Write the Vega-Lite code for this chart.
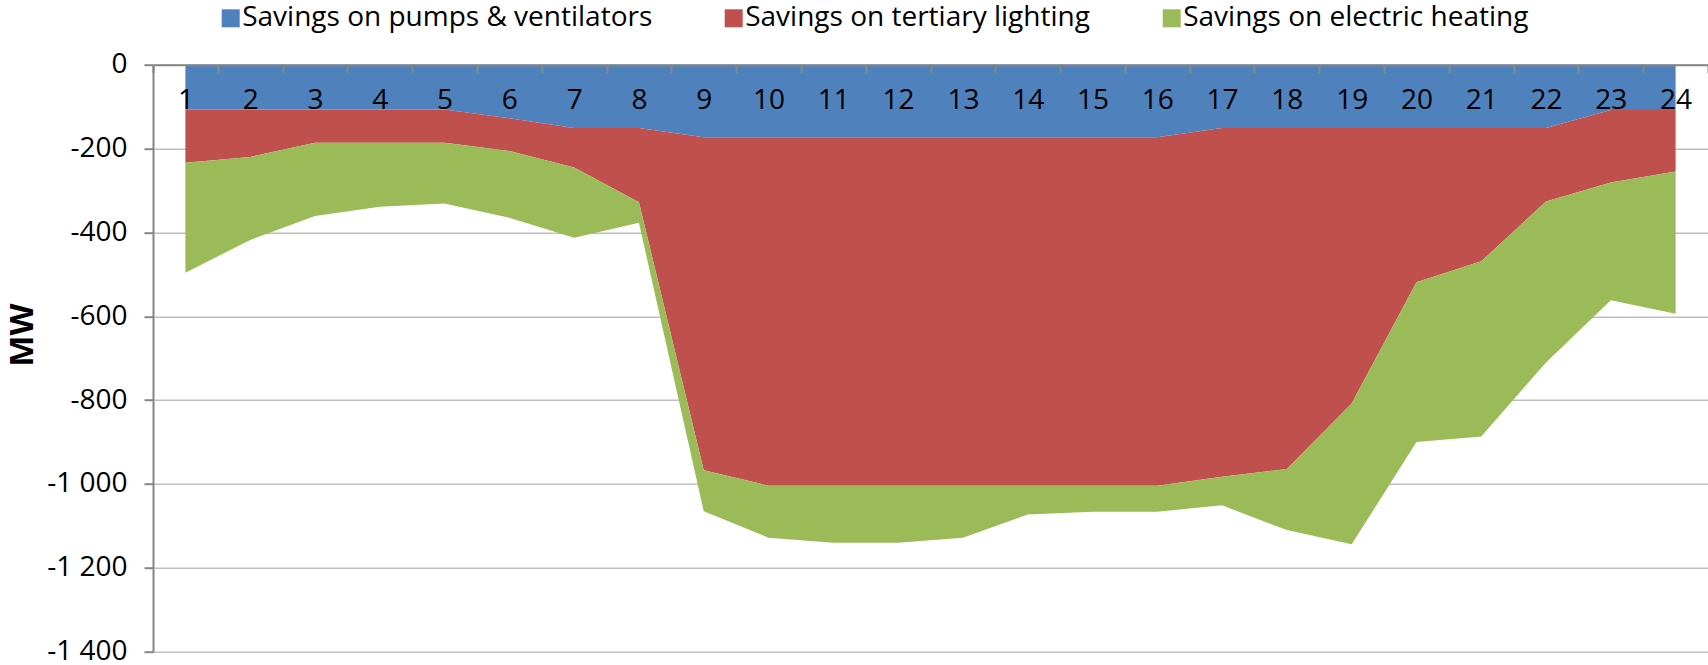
{
  "$schema": "https://vega.github.io/schema/vega-lite/v6.json",
  "width": 1555,
  "height": 587,
  "autosize": {"type": "none"},
  "padding": {"left": 153, "top": 64.7, "right": 0, "bottom": 13.3},
  "background": "white",
  "config": {"font": "Open Sans", "view": {"stroke": null}},
  "data": {
    "values": [
      {"hour": 1, "series": "Savings on pumps & ventilators", "value": -107},
      {"hour": 2, "series": "Savings on pumps & ventilators", "value": -107},
      {"hour": 3, "series": "Savings on pumps & ventilators", "value": -107},
      {"hour": 4, "series": "Savings on pumps & ventilators", "value": -107},
      {"hour": 5, "series": "Savings on pumps & ventilators", "value": -107},
      {"hour": 6, "series": "Savings on pumps & ventilators", "value": -128},
      {"hour": 7, "series": "Savings on pumps & ventilators", "value": -151},
      {"hour": 8, "series": "Savings on pumps & ventilators", "value": -151},
      {"hour": 9, "series": "Savings on pumps & ventilators", "value": -173},
      {"hour": 10, "series": "Savings on pumps & ventilators", "value": -173},
      {"hour": 11, "series": "Savings on pumps & ventilators", "value": -173},
      {"hour": 12, "series": "Savings on pumps & ventilators", "value": -173},
      {"hour": 13, "series": "Savings on pumps & ventilators", "value": -173},
      {"hour": 14, "series": "Savings on pumps & ventilators", "value": -173},
      {"hour": 15, "series": "Savings on pumps & ventilators", "value": -173},
      {"hour": 16, "series": "Savings on pumps & ventilators", "value": -173},
      {"hour": 17, "series": "Savings on pumps & ventilators", "value": -151},
      {"hour": 18, "series": "Savings on pumps & ventilators", "value": -151},
      {"hour": 19, "series": "Savings on pumps & ventilators", "value": -151},
      {"hour": 20, "series": "Savings on pumps & ventilators", "value": -151},
      {"hour": 21, "series": "Savings on pumps & ventilators", "value": -151},
      {"hour": 22, "series": "Savings on pumps & ventilators", "value": -151},
      {"hour": 23, "series": "Savings on pumps & ventilators", "value": -108},
      {"hour": 24, "series": "Savings on pumps & ventilators", "value": -108},
      {"hour": 1, "series": "Savings on tertiary lighting", "value": -127},
      {"hour": 2, "series": "Savings on tertiary lighting", "value": -113},
      {"hour": 3, "series": "Savings on tertiary lighting", "value": -79},
      {"hour": 4, "series": "Savings on tertiary lighting", "value": -79},
      {"hour": 5, "series": "Savings on tertiary lighting", "value": -79},
      {"hour": 6, "series": "Savings on tertiary lighting", "value": -78},
      {"hour": 7, "series": "Savings on tertiary lighting", "value": -94},
      {"hour": 8, "series": "Savings on tertiary lighting", "value": -177},
      {"hour": 9, "series": "Savings on tertiary lighting", "value": -794},
      {"hour": 10, "series": "Savings on tertiary lighting", "value": -831},
      {"hour": 11, "series": "Savings on tertiary lighting", "value": -831},
      {"hour": 12, "series": "Savings on tertiary lighting", "value": -831},
      {"hour": 13, "series": "Savings on tertiary lighting", "value": -831},
      {"hour": 14, "series": "Savings on tertiary lighting", "value": -831},
      {"hour": 15, "series": "Savings on tertiary lighting", "value": -831},
      {"hour": 16, "series": "Savings on tertiary lighting", "value": -831},
      {"hour": 17, "series": "Savings on tertiary lighting", "value": -832},
      {"hour": 18, "series": "Savings on tertiary lighting", "value": -813},
      {"hour": 19, "series": "Savings on tertiary lighting", "value": -657},
      {"hour": 20, "series": "Savings on tertiary lighting", "value": -368},
      {"hour": 21, "series": "Savings on tertiary lighting", "value": -318},
      {"hour": 22, "series": "Savings on tertiary lighting", "value": -175},
      {"hour": 23, "series": "Savings on tertiary lighting", "value": -173},
      {"hour": 24, "series": "Savings on tertiary lighting", "value": -147},
      {"hour": 1, "series": "Savings on electric heating", "value": -262},
      {"hour": 2, "series": "Savings on electric heating", "value": -198},
      {"hour": 3, "series": "Savings on electric heating", "value": -175},
      {"hour": 4, "series": "Savings on electric heating", "value": -153},
      {"hour": 5, "series": "Savings on electric heating", "value": -145},
      {"hour": 6, "series": "Savings on electric heating", "value": -159},
      {"hour": 7, "series": "Savings on electric heating", "value": -168},
      {"hour": 8, "series": "Savings on electric heating", "value": -49},
      {"hour": 9, "series": "Savings on electric heating", "value": -98},
      {"hour": 10, "series": "Savings on electric heating", "value": -124},
      {"hour": 11, "series": "Savings on electric heating", "value": -136},
      {"hour": 12, "series": "Savings on electric heating", "value": -136},
      {"hour": 13, "series": "Savings on electric heating", "value": -124},
      {"hour": 14, "series": "Savings on electric heating", "value": -69},
      {"hour": 15, "series": "Savings on electric heating", "value": -62},
      {"hour": 16, "series": "Savings on electric heating", "value": -62},
      {"hour": 17, "series": "Savings on electric heating", "value": -68},
      {"hour": 18, "series": "Savings on electric heating", "value": -146},
      {"hour": 19, "series": "Savings on electric heating", "value": -336},
      {"hour": 20, "series": "Savings on electric heating", "value": -381},
      {"hour": 21, "series": "Savings on electric heating", "value": -418},
      {"hour": 22, "series": "Savings on electric heating", "value": -384},
      {"hour": 23, "series": "Savings on electric heating", "value": -281},
      {"hour": 24, "series": "Savings on electric heating", "value": -339}
    ]
  },
  "transform": [
    {"calculate": "indexof(['Savings on pumps & ventilators','Savings on tertiary lighting','Savings on electric heating'], datum.series)", "as": "ord"}
  ],
  "mark": {"type": "area", "interpolate": "linear", "opacity": 1},
  "encoding": {
    "x": {
      "field": "hour",
      "type": "ordinal",
      "bandPosition": 0.5,
      "scale": {"type": "band", "paddingInner": 0, "paddingOuter": 0},
      "axis": {
        "orient": "bottom",
        "offset": -587,
        "title": null,
        "labelAngle": 0,
        "labelFontSize": 28,
        "labelColor": "black",
        "labelPadding": 14,
        "tickSize": 8,
        "tickBand": "extent",
        "tickColor": "#868686",
        "tickWidth": 2,
        "domainColor": "#868686",
        "domainWidth": 2,
        "grid": false,
        "zindex": 1
      }
    },
    "y": {
      "field": "value",
      "type": "quantitative",
      "stack": "zero",
      "scale": {"domain": [-1400, 0], "nice": false, "zero": false},
      "axis": {
        "values": [0, -200, -400, -600, -800, -1000, -1200, -1400],
        "labelExpr": "(datum.value < 0 ? '-' : '') + replace(format(abs(datum.value), ','), ',', ' ')",
        "labelFontSize": 28,
        "labelColor": "black",
        "labelPadding": 17,
        "tickSize": 9,
        "tickColor": "#868686",
        "tickWidth": 2,
        "domainColor": "#868686",
        "domainWidth": 2,
        "grid": true,
        "gridColor": "#BFBFBF",
        "gridWidth": 1.5,
        "title": "MW",
        "titleFontSize": 33,
        "titleFontWeight": "bold",
        "titleColor": "black",
        "titleAngle": -90,
        "titleX": -130.5,
        "titleY": 270,
        "titleAlign": "center",
        "titleBaseline": "middle"
      }
    },
    "color": {
      "field": "series",
      "type": "nominal",
      "scale": {
        "domain": ["Savings on pumps & ventilators", "Savings on tertiary lighting", "Savings on electric heating"],
        "range": ["#4F81BD", "#C0504D", "#9BBB59"]
      },
      "legend": {
        "orient": "none",
        "legendX": 63.7,
        "legendY": -60.4,
        "direction": "horizontal",
        "title": null,
        "symbolType": "square",
        "symbolSize": 324,
        "symbolStrokeWidth": 0,
        "symbolOpacity": 1,
        "labelFontSize": 28,
        "labelColor": "black",
        "labelOffset": -2.5,
        "labelLimit": 0,
        "columnPadding": 67,
        "padding": 0
      }
    },
    "order": {"field": "ord", "type": "quantitative"}
  }
}
